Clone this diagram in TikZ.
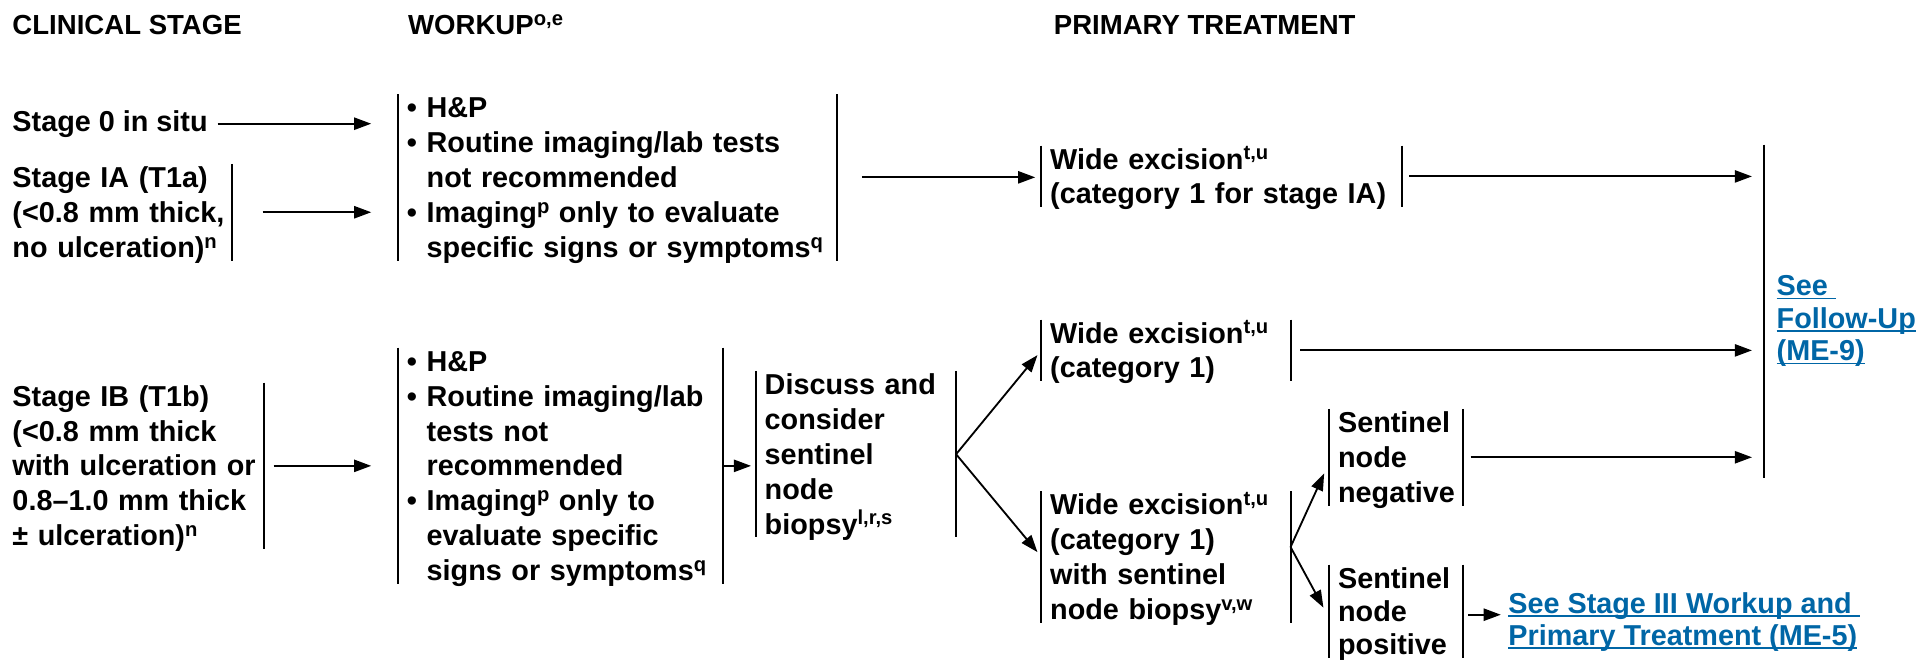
\documentclass[tikz,border=0pt]{standalone}
\usepackage{fontspec}
\setmainfont{Liberation Sans}
\usetikzlibrary{arrows.meta}
\definecolor{linkblue}{RGB}{0,102,166}
\newsavebox{\myulbox}
\newcommand{\uln}[1]{\sbox{\myulbox}{#1}\rlap{\rule[-2.8pt]{\wd\myulbox}{1.3pt}}\usebox{\myulbox}}
\newcommand{\bul}{\textbullet\ }
\newcommand{\ind}{\hphantom{\textbullet\ }}
\newcommand{\sps}[1]{\raisebox{7.5pt}{\fontsize{16.5}{16.5}\selectfont #1}}
\begin{document}
\begin{tikzpicture}[x=1pt,y=-1pt,
  every node/.style={font=\fontsize{23.5}{28.5}\selectfont\bfseries, inner sep=0pt},
  txt/.style={anchor=base west, align=left},
  box/.style={anchor=base west, align=left, inner xsep=7pt, inner ysep=0pt, text height=19pt},
  hdr/.style={anchor=base west, font=\fontsize{22.5}{27}\selectfont\bfseries},
  link/.style={anchor=base west, align=left, text=linkblue, font=\fontsize{23.5}{26.5}\selectfont\bfseries},
  bar/.style={line width=1.6pt},
  arr/.style={line width=1.5pt, -{Triangle[length=14pt,width=10pt]}},
]
\useasboundingbox (0,0) rectangle (1568,540);

% headers
\node[hdr] (h1) at (10,28) {CLINICAL STAGE};
\node[hdr] (h2) at (333,28) {WORKUP\sps{o,e}};
\node[hdr] (h3) at (860,28) {PRIMARY TREATMENT};

% clinical stage
\node[txt] (s0) at (10,107) {Stage 0 in situ};
\node[box, inner xsep=4pt, text width=175pt, text depth=59.5pt] (s1a) at (6,153)
  {\mbox{Stage IA (T1a)}\\\mbox{(<0.8 mm thick,}\\\mbox{no ulceration)\sps{n}}};
\draw[bar] (s1a.north east) -- (s1a.south east);
\node[box, inner xsep=5pt, text width=200pt, text depth=116.5pt] (s1b) at (5,331.5)
  {Stage IB (T1b)\\(<0.8 mm thick\\\mbox{with ulceration or}\\0.8–1.0 mm thick\\± ulceration)\sps{n}};
\draw[bar] (s1b.north east) -- (s1b.south east);

% workup
\node[box, text width=344pt, text depth=116.5pt] (w1) at (325,96)
  {\bul H\&P\\\bul Routine imaging/lab tests\\\ind not recommended\\\bul Imaging\sps{p} only to evaluate\\\ind specific signs or symptoms\sps{q}};
\draw[bar] (w1.north west) -- (w1.south west);
\draw[bar] (w1.north east) -- (w1.south east);
\node[box, text width=251pt, text depth=173.5pt] (w2) at (325,303)
  {\bul H\&P\\\bul Routine imaging/lab\\\ind tests not\\\ind recommended\\\bul Imaging\sps{p} only to\\\ind evaluate specific\\\ind signs or symptoms\sps{q}};
\draw[bar] (w2.north west) -- (w2.south west);
\draw[bar] (w2.north east) -- (w2.south east);

% discuss
\node[box, text width=149pt, text depth=116.5pt] (disc) at (617,322)
  {Discuss and\\consider\\sentinel\\node\\biopsy\sps{l,r,s}};
\draw[bar] (disc.north west) -- (disc.south west);
\draw[bar] (disc.north east) -- (disc.south east);

% primary treatment
\node[box, text width=280pt, text depth=31pt] (we1) at (850,138)
  {Wide excision\sps{t,u}\\(category 1 for stage IA)};
\draw[bar] (we1.north west) -- (we1.south west);
\draw[bar] (we1.north east) -- (we1.south east);
\node[box, text width=189pt, text depth=31pt] (we2) at (850,280)
  {Wide excision\sps{t,u}\\(category 1)};
\draw[bar] (we2.north west) -- (we2.south west);
\draw[bar] (we2.north east) -- (we2.south east);
\node[box, text width=189pt, text depth=88pt] (we3) at (850,420)
  {Wide excision\sps{t,u}\\(category 1)\\with sentinel\\node biopsy\sps{v,w}};
\draw[bar] (we3.north west) -- (we3.south west);
\draw[bar] (we3.north east) -- (we3.south east);
\node[box, text width=95pt, text depth=59.5pt] (snneg) at (1085,353)
  {Sentinel\\node\\negative};
\draw[bar] (snneg.north west) -- (snneg.south west);
\draw[bar] (snneg.north east) -- (snneg.south east);
\node[box, font=\fontsize{23.5}{27}\selectfont\bfseries, text width=95pt, text depth=56.5pt] (snpos) at (1085,480)
  {Sentinel\\node\\positive};
\draw[bar] (snpos.north west) -- (snpos.south west);
\draw[bar] (snpos.north east) -- (snpos.south east);

% follow-up
\coordinate (futop) at (1440,118);
\coordinate (fubot) at (1440,390);
\draw[bar] (futop) -- (fubot);
\node[link] (fu) at (1450,294.5) {\uln{See~}\\\uln{Follow-Up}\\\uln{(ME-9)}};
\node[link] (s3) at (1231,527) {\uln{See Stage III Workup and~}\\\uln{Primary Treatment (ME-5)}};

% connectors
\draw[arr, shorten <=8pt, shorten >=22pt] (s0.east) -- (s0.east -| w1.west);
\draw[arr, shorten <=25pt, shorten >=22pt] (s1a.east) -- (s1a.east -| w1.west);
\draw[arr, shorten <=20pt, shorten >=5pt] (w1.east) -- (w1.east -| we1.west);
\draw[arr, shorten <=6pt, shorten >=10pt] (we1.east) -- (we1.east -| futop);
\draw[arr, shorten <=8pt, shorten >=22pt] (s1b.east) -- (s1b.east -| w2.west);
\draw[arr, shorten >=4pt] (w2.east) -- (w2.east -| disc.west);
\draw[arr, shorten >=5pt] (disc.east) -- (we2.west);
\draw[arr, shorten >=5pt] (disc.east) -- (we3.west);
\draw[arr, shorten <=8pt, shorten >=10pt] (we2.east) -- (we2.east -| futop);
\draw[arr, shorten >=10pt] ([yshift=8pt]we3.east) -- ([yshift=-4pt]snneg.west);
\draw[arr, shorten >=10pt] ([yshift=8pt]we3.east) -- ([yshift=-6pt]snpos.west);
\draw[arr, shorten <=6pt, shorten >=10pt] (snneg.east) -- (snneg.east -| futop);
\draw[arr, shorten <=4pt, shorten >=6pt] ([yshift=-3pt]snpos.east) -- ([yshift=-3pt]snpos.east -| s3.west);
\end{tikzpicture}
\end{document}
